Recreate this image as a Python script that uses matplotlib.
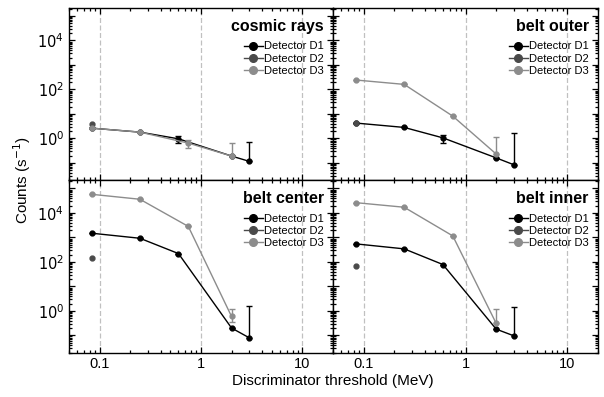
import matplotlib
matplotlib.use("Agg")
import matplotlib.pyplot as plt
import numpy as np
from matplotlib.ticker import LogLocator, FuncFormatter, NullFormatter, FixedLocator
from matplotlib.lines import Line2D

plt.rcParams['font.family'] = ['Liberation Sans', 'DejaVu Sans']

panel_titles = ["cosmic rays", "belt outer", "belt center", "belt inner"]
thresholds = [0.085, 0.25, 0.6, 2.0, 3.0]
thresholds_d3 = [0.085, 0.25, 0.75, 2.0]
threshold_d2 = [0.085]

# D1 values per panel
d1_vals = {
    "cosmic rays": [2.6, 1.8, 0.96, 0.19, 0.115],
    "belt outer": [4.2, 2.8, 1.05, 0.16, 0.083],
    "belt center": [1470, 920, 218, 0.2, 0.079],
    "belt inner": [540, 340, 78, 0.18, 0.095],
}
d1_err_lo = {
    "cosmic rays": [0, 0, 0.3, 0, 0],
    "belt outer": [0, 0, 0.38, 0, 0],
    "belt center": [0, 0, 0, 0, 0],
    "belt inner": [0, 0, 0, 0, 0],
}
d1_err_hi = {
    "cosmic rays": [0, 0, 0.3, 0, 0.6],
    "belt outer": [0, 0, 0.38, 0, 1.5],
    "belt center": [0, 0, 0, 0, 1.5],
    "belt inner": [0, 0, 0, 0, 1.35],
}
d2_vals = {
    "cosmic rays": [3.7],
    "belt outer": [4.4],
    "belt center": [145],
    "belt inner": [69],
}
d3_vals = {
    "cosmic rays": [2.6, 1.8, 0.64, 0.19],
    "belt outer": [240, 160, 8.1, 0.23],
    "belt center": [57000, 36000, 2800, 0.59],
    "belt inner": [26000, 17000, 1150, 0.31],
}
d3_err_lo = {
    "cosmic rays": [0, 0, 0.25, 0],
    "belt outer": [0, 0, 0, 0],
    "belt center": [0, 0, 0, 0.25],
    "belt inner": [0, 0, 0, 0],
}
d3_err_hi = {
    "cosmic rays": [0, 0, 0.25, 0.45],
    "belt outer": [0, 0, 0, 0.93],
    "belt center": [0, 0, 0, 0.6],
    "belt inner": [0, 0, 0, 0.9],
}

c1, c2, c3 = "#000000", "#4a4a4a", "#8c8c8c"

fig = plt.figure(figsize=(6.04, 3.97), dpi=100)
W, H = 604, 397
lefts = [69, 333]
widths = [264, 265]
tops = [7.5, 180]
ph = 172.5

def ylab(v, pos):
    e = int(round(np.log10(v)))
    if e % 2 == 0 and e >= 0:
        return r"$10^{%d}$" % e
    return ""

for idx, name in enumerate(panel_titles):
    r, c = divmod(idx, 2)
    ax = fig.add_axes([lefts[c] / W, (H - tops[r] - ph) / H, widths[c] / W, ph / H])
    ax.set_xscale('log')
    ax.set_yscale('log')
    ax.set_xlim(0.05, 20)
    ax.set_ylim(0.02, 2.2e5)
    for gx in [0.1, 1, 10]:
        ax.axvline(gx, color='#c0c0c0', ls=(0, (4, 2)), lw=0.9, zorder=0)

    ax.errorbar(thresholds, d1_vals[name], yerr=[d1_err_lo[name], d1_err_hi[name]],
                color=c1, marker='o', ms=3.5, lw=1.0, capsize=2, elinewidth=1.0, zorder=3)
    ax.errorbar(threshold_d2, d2_vals[name], color=c2, marker='o', ms=3.5, lw=1.0, zorder=4)
    ax.errorbar(thresholds_d3, d3_vals[name], yerr=[d3_err_lo[name], d3_err_hi[name]],
                color=c3, marker='o', ms=3.5, lw=1.0, capsize=2, elinewidth=1.0, zorder=5)

    ax.text(0.965, 0.89, name, transform=ax.transAxes, ha='right', va='center',
            fontsize=11.5, fontweight='bold')
    hs = [Line2D([], [], color=col, marker='o', ms=5.5, lw=1.0) for col in (c1, c2, c3)]
    ax.legend(hs, ["Detector D1", "Detector D2", "Detector D3"], loc='upper right',
              bbox_to_anchor=(1.0, 0.855), frameon=False, fontsize=8,
              handlelength=1.7, handletextpad=0.15, labelspacing=0.2, borderpad=0.3)

    ax.yaxis.set_major_locator(FixedLocator([10.0 ** e for e in range(-1, 6)]))
    ax.yaxis.set_minor_locator(LogLocator(base=10, subs=np.arange(2, 10), numticks=20))
    ax.yaxis.set_minor_formatter(NullFormatter())
    ax.xaxis.set_major_locator(FixedLocator([0.1, 1, 10]))
    ax.xaxis.set_minor_locator(LogLocator(base=10, subs=np.arange(2, 10), numticks=20))
    ax.xaxis.set_minor_formatter(NullFormatter())
    ax.tick_params(which='both', direction='in', top=True, right=True, width=0.9)
    ax.tick_params(which='major', length=4.5, labelsize=10.5)
    ax.tick_params(which='minor', length=2.2)
    if c == 0:
        ax.yaxis.set_major_formatter(FuncFormatter(ylab))
    else:
        ax.yaxis.set_major_formatter(NullFormatter())
    if r == 1:
        ax.xaxis.set_major_formatter(FuncFormatter(lambda v, p: "%g" % v))
    else:
        ax.xaxis.set_major_formatter(NullFormatter())
    for s in ax.spines.values():
        s.set_linewidth(1.0)

fig.text(22 / W, 1 - 180 / H, "Counts (s$^{-1}$)", rotation=90, ha='center', va='center', fontsize=11)
fig.text(333 / W, 1 - 381 / H, "Discriminator threshold (MeV)", ha='center', va='center', fontsize=11)

fig.savefig("out.png", dpi=100)
